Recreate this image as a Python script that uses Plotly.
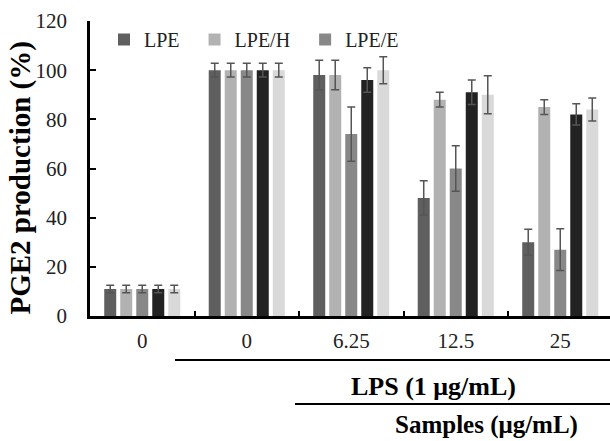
import plotly.graph_objects as go

groups = ["0", "0", "6.25", "12.5", "25"]
series_names = ["LPE", "LPE/H", "LPE/E", "S4", "S5"]
series_colors = ["#5f5f5f", "#b2b2b2", "#888888", "#222222", "#d9d9d9"]
show_in_legend = [True, True, True, False, False]

lpe = [11, 100, 98, 48, 30]
lpe_err = [1.5, 2.8, 6, 7, 5.3]
lpe_h = [11, 100, 98, 88, 85]
lpe_h_err = [1.5, 2.8, 6, 3, 3]
lpe_e = [11, 100, 74, 60, 27]
lpe_e_err = [1.5, 2.8, 11, 9.3, 8.5]
s4 = [11, 100, 96, 91, 82]
s4_err = [1.5, 2.8, 5, 5, 4.3]
s5 = [11, 100, 100, 90, 84]
s5_err = [1.5, 2.8, 5.5, 7.7, 4.7]

values = [lpe, lpe_h, lpe_e, s4, s5]
errors = [lpe_err, lpe_h_err, lpe_e_err, s4_err, s5_err]
xpos = list(range(len(groups)))
boundaries = [0.5, 1.5, 2.5, 3.5]

serif = "Liberation Serif, Times New Roman, serif"
pad = "\u00a0\u00a0"

fig = go.Figure()
for name, col, vals, errs, sl in zip(series_names, series_colors, values, errors, show_in_legend):
    fig.add_trace(go.Bar(
        x=xpos, y=vals, name=name + pad, marker_color=col, marker_line_width=0,
        showlegend=sl,
        error_y=dict(type="data", array=errs, visible=True, color="#555555",
                     thickness=1.5, width=4),
    ))

L, T, W, H = 90, 21, 610, 441
plot_w = W - L
plot_h = 316 - T
group_px = 104.5
xmax = -0.5 + plot_w / group_px

def py(pix):
    return (316 - pix) / plot_h

def px(pix):
    return (pix - L) / plot_w

fig.update_layout(
    width=W, height=H,
    margin=dict(l=L, r=0, t=T, b=H - 316, pad=0, autoexpand=False),
    paper_bgcolor="white", plot_bgcolor="white",
    barmode="group", bargap=0.234, bargroupgap=0.25,
    font=dict(family=serif, size=20, color="#222222"),
    showlegend=True,
    legend=dict(orientation="h", x=px(104), y=py(20), xanchor="left", yanchor="top",
                font=dict(family=serif, size=20, color="#222222"),
                bgcolor="rgba(0,0,0,0)", traceorder="normal"),
    xaxis=dict(range=[-0.5, xmax], tickvals=boundaries, ticktext=["", "", "", ""],
               ticks="inside", ticklen=5, tickwidth=2, tickcolor="black",
               showline=True, linecolor="black", linewidth=2.5, automargin=False,
               showgrid=False, zeroline=False, fixedrange=True),
    xaxis2=dict(range=[-0.5, xmax], overlaying="x", side="bottom", anchor="y",
                tickvals=xpos, ticktext=groups, ticks="", showline=False, automargin=False,
                showgrid=False, zeroline=False, ticklabelstandoff=10,
                tickfont=dict(family=serif, size=21, color="#222222")),
    yaxis=dict(range=[0, 120], tickvals=[0, 20, 40, 60, 80, 100, 120],
               ticks="inside", ticklen=6, tickwidth=2, tickcolor="black",
               showline=True, linecolor="black", linewidth=2.5, automargin=False,
               showgrid=False, zeroline=False, ticklabelstandoff=16,
               tickfont=dict(family=serif, size=21, color="#222222")),
)
fig.add_trace(go.Scatter(x=xpos, y=[None]*len(xpos), xaxis="x2", yaxis="y",
                         showlegend=False, hoverinfo="skip", mode="markers"))

fig.add_annotation(text="<b>PGE2 production (%)</b>", xref="paper", yref="paper",
                   x=px(20), y=py(178.5), xanchor="center", yanchor="middle",
                   textangle=-90, showarrow=False,
                   font=dict(family=serif, size=29, color="black"))
fig.add_shape(type="line", xref="paper", yref="paper", x0=px(175), x1=1.0,
              y0=py(360), y1=py(360), line=dict(color="black", width=2))
fig.add_shape(type="line", xref="paper", yref="paper", x0=px(295), x1=1.0,
              y0=py(404), y1=py(404), line=dict(color="black", width=2))
fig.add_annotation(text="<b>LPS (1 μg/mL)</b>", xref="paper", yref="paper",
                   x=px(433), y=py(386), xanchor="center", yanchor="middle",
                   showarrow=False, font=dict(family=serif, size=26, color="black"))
fig.add_annotation(text="<b>Samples (μg/mL)</b>", xref="paper", yref="paper",
                   x=px(486), y=py(425), xanchor="center", yanchor="middle",
                   showarrow=False, font=dict(family=serif, size=25, color="black"))

fig.write_html("out.html", config={"displayModeBar": False},
               post_script="document.body.style.margin='0';document.body.style.padding='0';")
